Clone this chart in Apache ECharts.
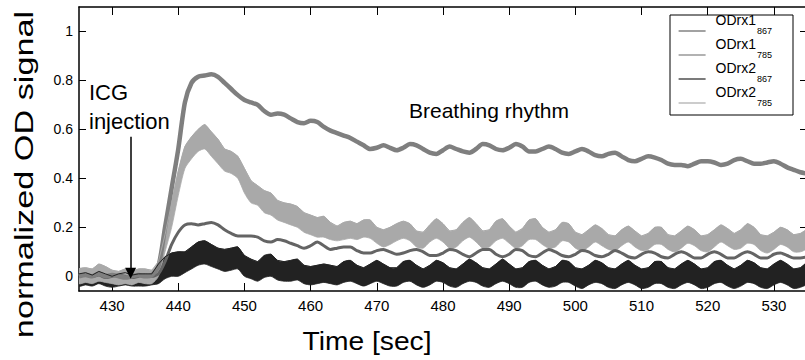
<!DOCTYPE html>
<html><head><meta charset="utf-8">
<script src="https://cdn.jsdelivr.net/npm/echarts@6/dist/echarts.min.js"></script>
<style>html,body{margin:0;padding:0;background:#fff}#c{width:805px;height:360px}</style>
</head><body><div id="c"></div>
<script>
// sampling: one value per second, starting at T0
const T0 = 425;
const xTicks = [430, 440, 450, 460, 470, 480, 490, 500, 510, 520, 530];
const xTickLabels = ['430','440','450','460','470','480','490','500','510','520','530'];
const yTicks = [0, 0.2, 0.4, 0.6, 0.8, 1];
const yTickLabels = ['0', '0.2', '0.4', '0.6', '0.8', '1'];
const legendNames = ['ODrx1_867', 'ODrx1_785', 'ODrx2_867', 'ODrx2_785'];

const ODRX1_785 = [
 0.000,0.005,0.000,0.010,0.000,0.005,0.000,-0.005,0.000,0.005,
 0.000,0.005,0.040,0.200,0.360,0.520,0.710,0.790,0.815,0.820,
 0.825,0.815,0.790,0.765,0.740,0.720,0.710,0.700,0.675,0.660,
 0.665,0.660,0.645,0.630,0.625,0.635,0.630,0.610,0.595,0.585,
 0.575,0.565,0.550,0.535,0.520,0.525,0.535,0.525,0.515,0.525,
 0.540,0.535,0.520,0.505,0.500,0.515,0.530,0.520,0.510,0.505,
 0.520,0.540,0.535,0.520,0.515,0.525,0.540,0.530,0.510,0.510,
 0.520,0.530,0.520,0.505,0.500,0.510,0.520,0.510,0.495,0.490,
 0.500,0.505,0.490,0.475,0.470,0.480,0.490,0.485,0.475,0.460,
 0.455,0.455,0.450,0.460,0.470,0.470,0.465,0.455,0.460,0.475,
 0.480,0.470,0.460,0.460,0.465,0.470,0.460,0.445,0.435,0.425,
 0.420];

const ODRX1_867 = [
 0.000,0.005,0.000,0.005,-0.005,0.000,0.005,0.000,-0.005,0.000,
 0.005,0.000,0.010,0.060,0.130,0.180,0.210,0.215,0.210,0.215,
 0.220,0.210,0.190,0.175,0.165,0.165,0.165,0.160,0.145,0.140,
 0.150,0.145,0.135,0.125,0.115,0.125,0.140,0.125,0.110,0.115,
 0.120,0.120,0.105,0.095,0.095,0.105,0.110,0.100,0.090,0.095,
 0.105,0.110,0.100,0.085,0.085,0.095,0.110,0.105,0.090,0.080,
 0.095,0.110,0.110,0.090,0.080,0.090,0.110,0.105,0.085,0.080,
 0.095,0.110,0.100,0.085,0.080,0.090,0.105,0.100,0.085,0.080,
 0.090,0.105,0.095,0.080,0.075,0.090,0.100,0.095,0.080,0.075,
 0.090,0.100,0.090,0.075,0.075,0.090,0.100,0.090,0.075,0.075,
 0.090,0.100,0.090,0.075,0.075,0.090,0.095,0.085,0.075,0.075,
 0.080];

// noisy traces: lower / upper edge of the band
const ODRX2_785_LO = [
 -0.030,-0.025,-0.030,-0.020,-0.025,-0.030,-0.035,-0.030,-0.035,-0.025,
 -0.030,-0.030,0.000,0.100,0.200,0.330,0.440,0.480,0.510,0.520,
 0.490,0.460,0.430,0.420,0.400,0.340,0.300,0.290,0.260,0.250,
 0.230,0.220,0.210,0.200,0.180,0.170,0.160,0.160,0.150,0.145,
 0.150,0.155,0.150,0.160,0.155,0.135,0.120,0.130,0.145,0.155,
 0.145,0.120,0.115,0.140,0.155,0.140,0.115,0.120,0.145,0.160,
 0.140,0.115,0.120,0.145,0.155,0.135,0.115,0.125,0.150,0.150,
 0.130,0.115,0.120,0.145,0.140,0.115,0.105,0.120,0.140,0.125,
 0.110,0.105,0.125,0.140,0.120,0.105,0.110,0.130,0.130,0.110,
 0.100,0.115,0.135,0.125,0.105,0.100,0.120,0.140,0.125,0.110,
 0.115,0.135,0.130,0.105,0.095,0.110,0.130,0.120,0.100,0.100,
 0.115];
const ODRX2_785_HI = [
 0.030,0.035,0.030,0.050,0.040,0.025,0.020,0.030,0.020,0.030,
 0.030,0.025,0.060,0.170,0.300,0.430,0.530,0.570,0.600,0.620,
 0.590,0.560,0.520,0.510,0.490,0.440,0.390,0.370,0.350,0.340,
 0.310,0.300,0.295,0.285,0.260,0.250,0.240,0.245,0.220,0.205,
 0.220,0.225,0.215,0.230,0.230,0.200,0.190,0.200,0.215,0.225,
 0.215,0.185,0.180,0.210,0.235,0.215,0.185,0.190,0.220,0.240,
 0.215,0.185,0.190,0.225,0.235,0.205,0.180,0.195,0.230,0.235,
 0.200,0.180,0.190,0.220,0.215,0.180,0.170,0.190,0.210,0.195,
 0.170,0.165,0.190,0.205,0.185,0.165,0.175,0.200,0.200,0.170,
 0.165,0.185,0.205,0.190,0.165,0.170,0.190,0.210,0.195,0.175,
 0.190,0.215,0.200,0.170,0.165,0.180,0.200,0.190,0.170,0.175,
 0.190];
const ODRX2_867_LO = [
 -0.040,-0.035,-0.040,-0.030,-0.040,-0.045,-0.040,-0.035,-0.040,-0.040,
 -0.040,-0.035,-0.030,-0.010,0.000,0.000,0.015,0.030,0.045,0.050,
 0.040,0.030,0.020,0.025,0.030,0.000,-0.010,-0.020,-0.005,0.000,
 -0.015,-0.020,-0.020,-0.015,-0.030,-0.035,-0.030,-0.025,-0.030,-0.035,
 -0.025,-0.020,-0.030,-0.040,-0.030,-0.020,-0.030,-0.040,-0.040,-0.025,
 -0.020,-0.035,-0.045,-0.035,-0.020,-0.025,-0.040,-0.045,-0.030,-0.020,
 -0.025,-0.040,-0.045,-0.030,-0.020,-0.030,-0.045,-0.045,-0.025,-0.020,
 -0.035,-0.045,-0.040,-0.025,-0.025,-0.040,-0.050,-0.035,-0.025,-0.030,
 -0.045,-0.050,-0.035,-0.025,-0.035,-0.050,-0.045,-0.030,-0.030,-0.045,
 -0.050,-0.035,-0.025,-0.035,-0.050,-0.045,-0.030,-0.025,-0.040,-0.050,
 -0.040,-0.025,-0.030,-0.045,-0.050,-0.035,-0.025,-0.035,-0.050,-0.045,
 -0.030];
const ODRX2_867_HI = [
 0.010,0.015,0.005,0.020,0.010,0.000,0.010,0.015,0.005,0.010,
 0.010,0.010,0.050,0.080,0.095,0.100,0.100,0.120,0.140,0.145,
 0.130,0.115,0.110,0.115,0.120,0.085,0.070,0.060,0.085,0.090,
 0.065,0.060,0.065,0.070,0.045,0.040,0.045,0.050,0.045,0.040,
 0.060,0.065,0.045,0.035,0.050,0.065,0.050,0.035,0.035,0.060,
 0.065,0.045,0.030,0.045,0.065,0.055,0.035,0.030,0.050,0.070,
 0.055,0.035,0.030,0.050,0.070,0.050,0.030,0.035,0.060,0.065,
 0.045,0.030,0.040,0.065,0.060,0.035,0.030,0.045,0.065,0.055,
 0.035,0.030,0.050,0.065,0.045,0.030,0.035,0.060,0.060,0.035,
 0.030,0.050,0.065,0.050,0.030,0.035,0.060,0.065,0.045,0.030,
 0.045,0.065,0.055,0.035,0.030,0.050,0.065,0.050,0.030,0.035,
 0.055];

// ICG injection arrow (time, from value, to value)
const ARROW_T = 432.8, ARROW_FROM = 0.57, ARROW_TO = 0.012;

const FONT = '"Liberation Sans", Arial, Helvetica, sans-serif';
function pairs(arr) { return arr.map((v, i) => [T0 + i, v]); }

const C1_867 = '#646464', C1_785 = '#7f7f7f', C2_867 = '#222222', C2_785 = '#a9a9a9';

// filled band between lower and upper edge, drawn through the axis scales
function bandSeries(name, lo, hi, color) {
  return {
    name: name, type: 'custom', silent: true, clip: true,
    data: lo.map((v, i) => [T0 + i, v, hi[i]]),
    encode: { x: 0, y: [1, 2] },
    renderItem: function (params, api) {
      if (params.dataIndex !== 0) return null;
      const pts = [];
      for (let j = 0; j < hi.length; j++) pts.push(api.coord([T0 + j, hi[j]]));
      for (let j = lo.length - 1; j >= 0; j--) pts.push(api.coord([T0 + j, lo[j]]));
      return { type: 'polygon', shape: { points: pts, smooth: 0.25 },
        style: { fill: color, stroke: color, lineWidth: 0.8 } };
    }
  };
}

const chart = echarts.init(document.getElementById('c'), null, { renderer: 'svg' });

const axisLineStyle = { color: '#000', width: 1.5 };
const tickStyle = { color: '#000', width: 1 };

// one legend block per entry so the rows sit exactly 24 px apart
const legendRich = {
  a: { fontSize: 14, lineHeight: 16, verticalAlign: 'top', fontFamily: FONT, color: '#000', padding: [0, 0, 0, 5] },
  b: { fontSize: 9, lineHeight: 36, verticalAlign: 'middle', fontFamily: FONT, color: '#000', padding: [0, 0, 0, 1] }
};
const legends = legendNames.map((n, i) => ({
  data: [n], orient: 'vertical', left: 678, top: 13 + 24 * i, padding: 0,
  itemWidth: 27, itemHeight: 10, selectedMode: false,
  lineStyle: { width: 1.2 }, itemStyle: { opacity: 0 },
  textStyle: { fontFamily: FONT, color: '#000', rich: legendRich },
  formatter: name => { const p = name.split('_'); return '{a|' + p[0] + '}{b|' + p[1] + '}'; }
}));

chart.setOption({
  animation: false,
  backgroundColor: '#fff',
  grid: { left: 79, right: -2, top: 7, bottom: 69, outerBoundsMode: 'none', containLabel: false },
  xAxis: [
    { type: 'value', min: 425, max: 535, position: 'bottom',
      axisLine: { show: true, onZero: false, lineStyle: axisLineStyle },
      axisTick: { show: true, inside: true, length: 8, customValues: xTicks, lineStyle: tickStyle },
      axisLabel: { show: true, customValues: xTicks, margin: 7, color: '#000', fontSize: 15, fontFamily: FONT,
        formatter: v => xTickLabels[xTicks.indexOf(v)] },
      splitLine: { show: false } },
    { type: 'value', min: 425, max: 535, position: 'top',
      axisLine: { show: true, onZero: false, lineStyle: axisLineStyle },
      axisTick: { show: true, inside: true, length: 8, customValues: xTicks, lineStyle: tickStyle },
      axisLabel: { show: false }, splitLine: { show: false } }
  ],
  yAxis: [
    { type: 'value', min: -0.06, max: 1.1, position: 'left',
      axisLine: { show: true, onZero: false, lineStyle: axisLineStyle },
      axisTick: { show: true, inside: true, length: 7, customValues: yTicks, lineStyle: tickStyle },
      axisLabel: { show: true, customValues: yTicks, margin: 6, color: '#000', fontSize: 14, fontFamily: FONT,
        formatter: v => yTickLabels[yTicks.indexOf(v)] },
      splitLine: { show: false } },
    { type: 'value', min: -0.06, max: 1.1, position: 'right',
      axisLine: { show: true, onZero: false, lineStyle: axisLineStyle },
      axisTick: { show: true, inside: true, length: 7, customValues: yTicks, lineStyle: tickStyle },
      axisLabel: { show: false }, splitLine: { show: false } }
  ],
  legend: legends,
  graphic: { elements: [
    { type: 'rect', z: 3, shape: { x: 670, y: 15, width: 123, height: 100 },
      style: { fill: '#fff', stroke: '#000', lineWidth: 1 } },
    { type: 'text', x: 89, y: 92.3, z: 5,
      style: { text: 'ICG', font: '22px ' + FONT, fill: '#000', textAlign: 'left', align: 'left', textVerticalAlign: 'middle', verticalAlign: 'middle' } },
    { type: 'text', x: 89, y: 121.3, z: 5,
      style: { text: 'injection', font: '22px ' + FONT, fill: '#000', textAlign: 'left', align: 'left', textVerticalAlign: 'middle', verticalAlign: 'middle' } },
    { type: 'text', x: 409, y: 110.6, z: 5,
      style: { text: 'Breathing rhythm', font: '21px ' + FONT, fill: '#000', textAlign: 'left', align: 'left', textVerticalAlign: 'middle', verticalAlign: 'middle' } },
    { type: 'text', x: 367, y: 341.3, z: 5, scaleX: 1.13,
      style: { text: 'Time [sec]', font: '25px ' + FONT, fill: '#000', textAlign: 'center', align: 'center', textVerticalAlign: 'middle', verticalAlign: 'middle' } },
    { type: 'text', x: 24.3, y: 174.5, z: 5, rotation: Math.PI / 2, scaleX: 1.37,
      style: { text: 'normalized OD signal', font: '25px ' + FONT, fill: '#000', textAlign: 'center', align: 'center', textVerticalAlign: 'middle', verticalAlign: 'middle' } }
  ] },
  series: [
    { name: 'ODrx1_867', type: 'line', symbol: 'none', smooth: 0.25, data: pairs(ODRX1_867),
      lineStyle: { color: C1_867, width: 3 }, itemStyle: { color: C1_867 },
      markLine: { silent: true, animation: false, symbol: ['none', 'triangle'], symbolSize: 11,
        label: { show: false }, lineStyle: { color: '#000', width: 1.5, type: 'solid' },
        emphasis: { disabled: true },
        data: [[{ coord: [ARROW_T, ARROW_FROM] }, { coord: [ARROW_T, ARROW_TO] }]] } },
    { name: 'ODrx1_785', type: 'line', symbol: 'none', smooth: 0.25, data: pairs(ODRX1_785),
      lineStyle: { color: C1_785, width: 4.5 }, itemStyle: { color: C1_785 } },
    { name: 'ODrx2_867', type: 'line', symbol: 'none', data: pairs(ODRX2_867_HI),
      lineStyle: { color: C2_867, width: 1 }, itemStyle: { color: C2_867 } },
    bandSeries('ODrx2_867', ODRX2_867_LO, ODRX2_867_HI, C2_867),
    { name: 'ODrx2_785', type: 'line', symbol: 'none', data: pairs(ODRX2_785_HI),
      lineStyle: { color: C2_785, width: 1 }, itemStyle: { color: C2_785 } },
    bandSeries('ODrx2_785', ODRX2_785_LO, ODRX2_785_HI, C2_785)
  ]
});
</script></body></html>
